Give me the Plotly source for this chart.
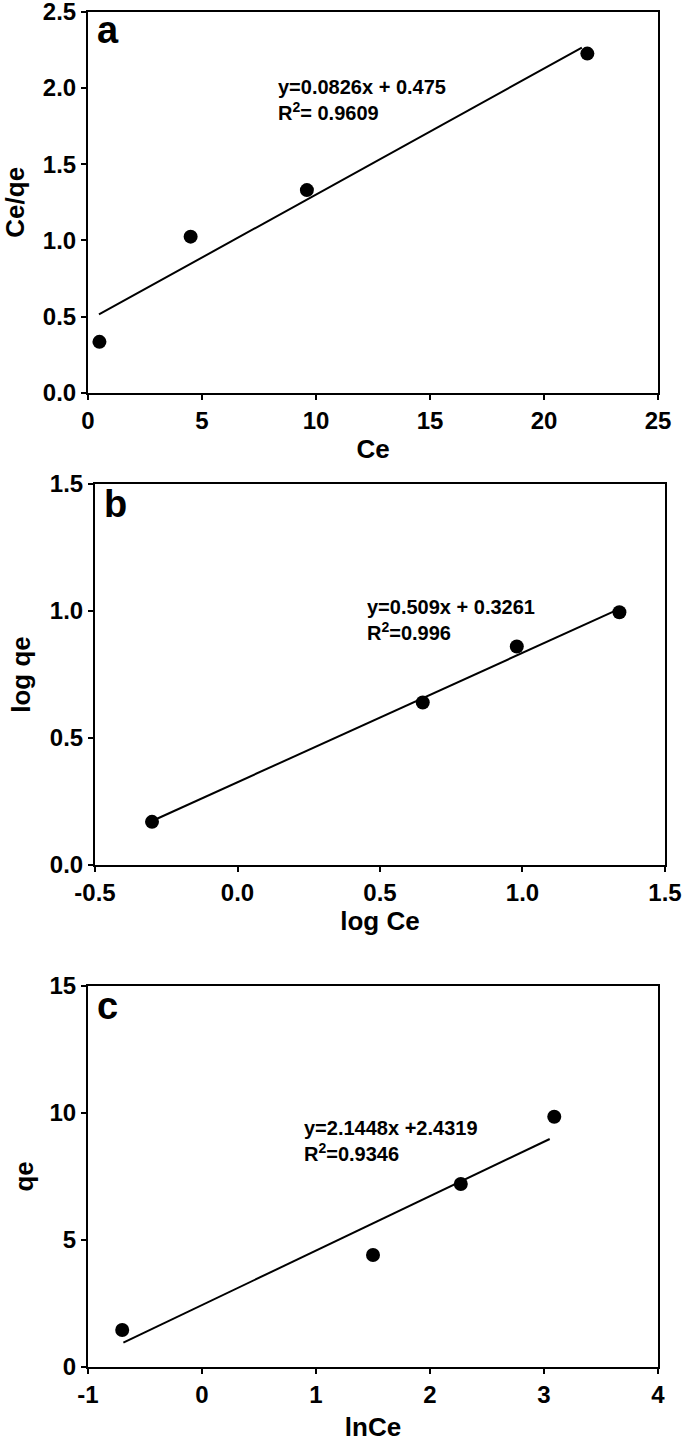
import plotly.graph_objects as go

# panel a - Langmuir
ce_a = [0.5, 4.5, 9.6, 21.9]
ceqe_a = [0.335, 1.025, 1.33, 2.225]
fit_a = (0.0826, 0.475)
fit_a_x = [0.48, 21.66]

# panel b - Freundlich
logce_b = [-0.30, 0.65, 0.98, 1.34]
logqe_b = [0.17, 0.64, 0.86, 0.995]
fit_b = (0.509, 0.3261)
fit_b_x = [-0.30, 1.34]

# panel c - Temkin
lnce_c = [-0.70, 1.50, 2.27, 3.09]
qe_c = [1.45, 4.40, 7.20, 9.85]
fit_c = (2.1448, 2.4319)
fit_c_x = [-0.69, 3.05]

# tick labels (hyphen minus as in the original)
xt_a = [0, 5, 10, 15, 20, 25]
xt_b = [-0.5, 0.0, 0.5, 1.0, 1.5]
xt_b_text = ["-0.5", "0.0", "0.5", "1.0", "1.5"]
xt_c = [-1, 0, 1, 2, 3, 4]
xt_c_text = ["-1", "0", "1", "2", "3", "4"]

FONT = "Liberation Sans, Arial, sans-serif"

fig = go.Figure()

panels = [
    ("x", "y", ce_a, ceqe_a, fit_a, fit_a_x),
    ("x2", "y2", logce_b, logqe_b, fit_b, fit_b_x),
    ("x3", "y3", lnce_c, qe_c, fit_c, fit_c_x),
]
for xa, ya, xs, ys, (m, b), fx in panels:
    fig.add_trace(go.Scatter(x=fx, y=[m * v + b for v in fx], mode="lines",
                             line=dict(color="black", width=2),
                             xaxis=xa, yaxis=ya, showlegend=False))
    fig.add_trace(go.Scatter(x=xs, y=ys, mode="markers",
                             marker=dict(color="black", size=14),
                             xaxis=xa, yaxis=ya, showlegend=False))


def axis(domain, rng, dtick, title, anchor, standoff, fmt=None, tv=None, tt=None):
    d = dict(domain=domain, range=rng, dtick=dtick, tick0=rng[0], anchor=anchor,
             automargin=False, ticklabeloverflow="allow",
             showgrid=False, zeroline=False, showline=True, mirror=True,
             linecolor="black", linewidth=2, ticks="outside", ticklen=5,
             tickwidth=2, tickcolor="black",
             tickfont=dict(family=FONT, size=24, color="black", weight="bold"),
             title=dict(text="<b>" + title + "</b>", standoff=standoff,
                        font=dict(family=FONT, size=26, color="black")))
    if fmt:
        d["tickformat"] = fmt
    if tv is not None:
        d["tickmode"] = "array"
        d["tickvals"] = tv
        d["ticktext"] = tt
    return d


fig.update_layout(
    width=685, height=1442,
    margin=dict(l=0, r=0, t=0, b=0),
    plot_bgcolor="white", paper_bgcolor="white",
    font=dict(family=FONT, color="black"),
    xaxis=axis([0.1285, 0.9606], [0, 25], 5, "Ce", "y", 7, tv=xt_a, tt=[str(v) for v in xt_a]),
    yaxis=axis([0.7275, 0.9919], [0, 2.5], 0.5, "Ce/qe", "x", 15, ".1f"),
    xaxis2=axis([0.1387, 0.9708], [-0.5, 1.5], 0.5, "log Ce", "y2", 7, tv=xt_b, tt=xt_b_text),
    yaxis2=axis([0.4001, 0.6644], [0, 1.5], 0.5, "log qe", "x2", 12, ".1f"),
    xaxis3=axis([0.1285, 0.9606], [-1, 4], 1, "lnCe", "y3", 12, tv=xt_c, tt=xt_c_text),
    yaxis3=axis([0.0522, 0.3162], [0, 15], 5, "qe", "x3", 8),
)

equations = [
    ("x", "y", 8.25, 1.921, "y=0.0826x + 0.475<br>R<sup>2</sup>= 0.9609"),
    ("x2", "y2", 0.447, 0.963, "y=0.509x + 0.3261<br>R<sup>2</sup>=0.996"),
    ("x3", "y3", 0.877, 8.91, "y=2.1448x +2.4319<br>R<sup>2</sup>=0.9346"),
]
for xr, yr, xv, yv, txt in equations:
    fig.add_annotation(x=xv, y=yv, xref=xr, yref=yr, text="<b>" + txt + "</b>",
                       showarrow=False, xanchor="left", yanchor="middle", align="left",
                       font=dict(family=FONT, size=20, color="black"))

for xr, yr, letter, ly in [("x", "y", "a", 1.012), ("x2", "y2", "b", 1.008), ("x3", "y3", "c", 1.008)]:
    fig.add_annotation(x=0.012, y=ly, xref=xr + " domain", yref=yr + " domain",
                       text="<b>" + letter + "</b>", showarrow=False,
                       xanchor="left", yanchor="top",
                       font=dict(family=FONT, size=38, color="black"))

# drop the default page margin so the figure sits at the window's corner
fig.write_html("out.html", config={"displayModeBar": False},
               post_script="document.body.style.margin='0';document.body.style.overflow='hidden';")
